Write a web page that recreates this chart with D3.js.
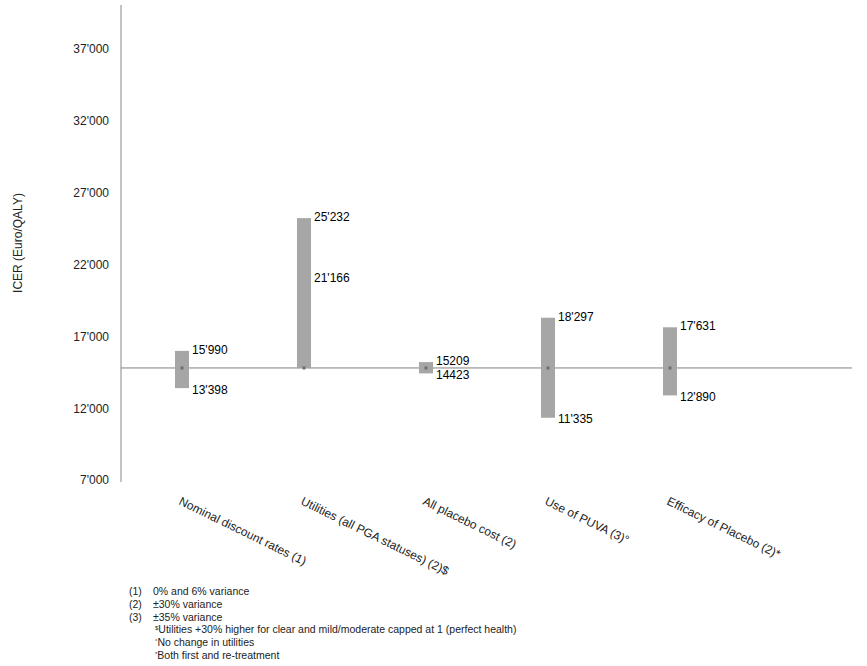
<!DOCTYPE html>
<html>
<head>
<meta charset="utf-8">
<script src="https://cdn.jsdelivr.net/npm/d3@7"></script>
<style>
  body { margin: 0; background: #fff; }
  svg { display: block; font-family: "Liberation Sans", Arial, sans-serif; }
</style>
</head>
<body>
<div id="chart"><svg></svg></div>
<script>
// data
const categories = [
    "Nominal discount rates (1)",
    "Utilities (all PGA statuses) (2)$",
    "All placebo cost (2)",
    "Use of PUVA (3)\u00b0",
    "Efficacy of Placebo (2)*"
];
const lowValues  = [13398, 21166, 14423, 11335, 12890];
const highValues = [15990, 25232, 15209, 18297, 17631];
const lowLabels  = ["13'398", "21'166", "14423", "11'335", "12'890"];
const highLabels = ["15'990", "25'232", "15209", "18'297", "17'631"];
const baseCase = 14800;
const yTicks = [7000, 12000, 17000, 22000, 27000, 32000, 37000];
const notes = [
    { mark: "(1)", text: "0% and 6% variance" },
    { mark: "(2)", text: "\u00b130% variance" },
    { mark: "(3)", text: "\u00b135% variance" },
    { sup: "$", text: "Utilities +30% higher for clear and mild/moderate capped at 1 (perfect health)" },
    { sup: "\u00b0", text: "No change in utilities" },
    { sup: "*", text: "Both first and re-treatment" }
];

const width = 867;
const height = 666;
const plotLeft = 121;
const plotRight = 852;

const svg = d3.select("#chart svg")
    .attr("width", width)
    .attr("height", height);

const x = d3.scalePoint()
    .domain(categories)
    .range([plotLeft, 731])
    .padding(0.5);

const y = d3.scaleLinear()
    .domain([7000, 40000])
    .range([480, 6]);

const barWidth = x.step() * 0.115;

// y axis
const yAxis = svg.append("g")
    .attr("transform", `translate(${plotLeft},0)`)
    .call(d3.axisLeft(y).tickValues(yTicks).tickSize(0).tickPadding(12)
        .tickFormat(d => d3.format(",")(d).replace(/,/g, "'")));

yAxis.select(".domain").remove();
yAxis.selectAll("text")
    .attr("fill", "#222")
    .style("font-size", "12px")
    .style("font-family", "'Liberation Sans', Arial, sans-serif");

svg.append("line")
    .attr("x1", plotLeft).attr("x2", plotLeft)
    .attr("y1", 5).attr("y2", 482)
    .attr("stroke", "#888")
    .attr("stroke-width", 1);

svg.append("text")
    .attr("transform", `translate(22, ${y(23500)}) rotate(-90)`)
    .attr("text-anchor", "middle")
    .attr("fill", "#222")
    .style("font-size", "12px")
    .text("ICER (Euro/QALY)");

// base case line
svg.append("line")
    .attr("x1", plotLeft).attr("x2", plotRight)
    .attr("y1", y(baseCase)).attr("y2", y(baseCase))
    .attr("stroke", "#808080")
    .attr("stroke-width", 1);

// bars span from the lower to the upper value, always including base case
svg.selectAll("rect.bar")
    .data(categories)
    .enter()
    .append("rect")
    .attr("class", "bar")
    .attr("x", d => x(d) - barWidth / 2)
    .attr("width", barWidth)
    .attr("y", (d, i) => y(Math.max(highValues[i], baseCase)))
    .attr("height", (d, i) => y(Math.min(lowValues[i], baseCase)) - y(Math.max(highValues[i], baseCase)))
    .attr("fill", "#a6a6a6");

// base case markers
svg.selectAll("rect.dot")
    .data(categories)
    .enter()
    .append("rect")
    .attr("class", "dot")
    .attr("x", d => x(d) - 1.5)
    .attr("y", y(baseCase) - 1.5)
    .attr("width", 3)
    .attr("height", 3)
    .attr("fill", "#6e6e6e");

// value labels
const labelText = (vals, labels, dy) => svg.selectAll(null)
    .data(categories)
    .enter()
    .append("text")
    .attr("x", d => x(d) + barWidth / 2 + 3)
    .attr("y", (d, i) => y(vals[i]))
    .attr("dy", dy)
    .attr("fill", "#000")
    .style("font-size", "12px")
    .text((d, i) => labels[i]);

labelText(highValues, highLabels, "0.26em");
labelText(lowValues, lowLabels, "0.46em");

// category labels, slanted
svg.selectAll("text.cat")
    .data(categories)
    .enter()
    .append("text")
    .attr("class", "cat")
    .attr("transform", d => `translate(${x(d) - 4}, 504) rotate(26)`)
    .attr("fill", "#222")
    .style("font-size", "12px")
    .text(d => d);

// footnotes
const foot = svg.append("g")
    .style("font-size", "10.5px")
    .attr("fill", "#222");

notes.forEach(function(n, i) {
    const yy = 595 + i * 12.8;
    if (n.mark) {
        foot.append("text").attr("x", 129).attr("y", yy).text(n.mark);
        foot.append("text").attr("x", 153).attr("y", yy).text(n.text);
    } else {
        const t = foot.append("text").attr("x", 155).attr("y", yy);
        t.append("tspan").attr("dy", -3).style("font-size", "6px").text(n.sup);
        t.append("tspan").attr("dy", 3).text(n.text);
    }
});
</script>
</body>
</html>
